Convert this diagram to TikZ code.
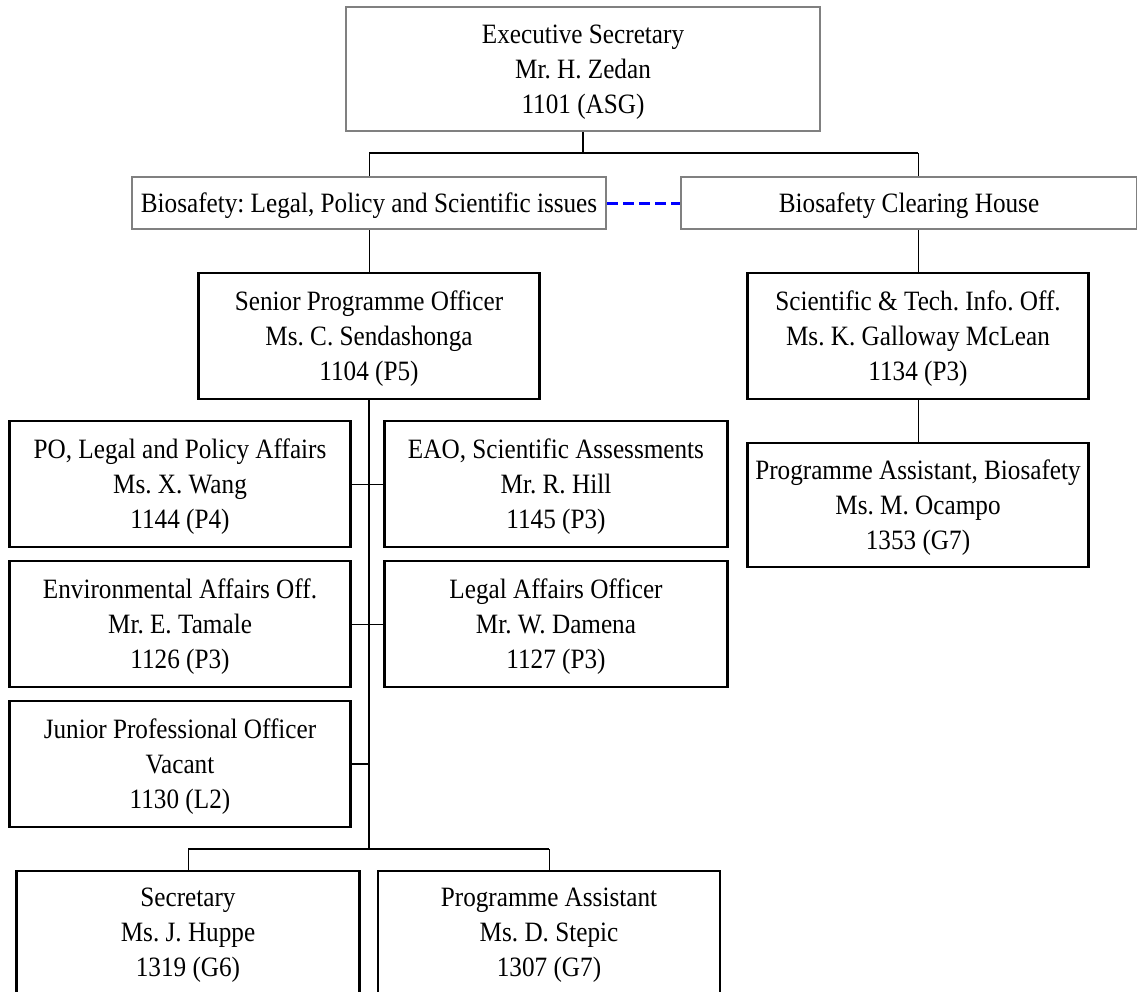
\documentclass[tikz,border=0pt]{standalone}
\usepackage{fontspec}
\setmainfont{Liberation Serif}[FakeStretch=0.9]
\usepackage{tikz}
\usetikzlibrary{positioning, calc}
\newcommand{\card}[3]{\rule{0pt}{25.5pt}#1\\#2\\#3} % three lines of a post, first line lowered a little
\tikzset{
x=1pt, y=-1pt, % one unit per pixel, y running downwards
post/.style={draw, line width=2.2pt, inner sep=0pt, align=center, minimum width=341pt, minimum height=126pt, font=\fontsize{28}{35}\selectfont\frenchspacing}, % sets the properties for each post
unit/.style={post, draw=gray, line width=2pt}, % grey boxes for the head and the two units
band/.style={unit, minimum height=52pt, execute at begin node={\rule{0pt}{25.5pt}}}, % one-line unit boxes
tie/.style={line width=1pt}, % thin connecting lines
trunk/.style={line width=1.8pt}, % heavier connecting lines
liaison/.style={draw=blue, line width=3pt, dash pattern=on 11pt off 5pt}, % dashed link between the units
}

\begin{document}
\begin{tikzpicture}
                \useasboundingbox (0,0) rectangle (1137,991);
                \node[unit, minimum width=474pt, minimum height=124pt] (exec) at (583,69) {\card{Executive Secretary}{Mr. H. Zedan}{1101 (ASG)}};
                \node[band, minimum width=474pt] (legal) at (369,203) {Biosafety: Legal, Policy and Scientific issues};
                \node[band, minimum width=456pt] (bch) at (909,203) {Biosafety Clearing House};
                \node[post] (senior) at (369,336) {\card{Senior Programme Officer}{Ms. C. Sendashonga}{1104 (P5)}};
                \node[post] (stio) at (918,336) {\card{Scientific \& Tech. Info. Off.}{Ms. K. Galloway McLean}{1134 (P3)}};
                \node[post, minimum height=124pt] (pabio) at (918,505) {\card{Programme Assistant, Biosafety}{Ms. M. Ocampo}{1353 (G7)}};
                \node[post] (wang) at (180,484) {\card{PO, Legal and Policy Affairs}{Ms. X. Wang}{1144 (P4)}};
                \node[post, minimum width=343pt] (hill) at (556,484) {\card{EAO, Scientific Assessments}{Mr. R. Hill}{1145 (P3)}};
                \node[post] (tamale) at (180,624) {\card{Environmental Affairs Off.}{Mr. E. Tamale}{1126 (P3)}};
                \node[post, minimum width=343pt] (damena) at (556,624) {\card{Legal Affairs Officer}{Mr. W. Damena}{1127 (P3)}};
                \node[post] (junior) at (180,764) {\card{Junior Professional Officer}{Vacant}{1130 (L2)}};
                \node[post, minimum width=343pt, minimum height=122pt] (huppe) at (188,932) {\card{Secretary}{Ms. J. Huppe}{1319 (G6)}};
                \node[post, minimum width=342pt, minimum height=122pt] (stepic) at (549,932) {\card{Programme Assistant}{Ms. D. Stepic}{1307 (G7)}};
                \coordinate (topbar) at (0,153);
                \coordinate (lowbar) at (0,849);
                \draw[trunk]
                    (exec.south) -- (exec.south |- topbar)
                    (legal.north |- topbar) -- (stio.north |- topbar)
                    (senior.south) -- (senior.south |- lowbar)
                    (huppe.north |- lowbar) -- (stepic.north |- lowbar)
                    (junior.east) -- (junior.east -| senior.south)
                    ;
                \draw[tie]
                    (legal.north |- topbar) -- (legal.north)
                    (stio.north |- topbar) -- (stio.north |- bch.north)
                    (legal.south) -- (senior.north)
                    (stio.north |- bch.south) -- (stio.north)
                    (stio.south) -- (pabio.north)
                    (wang.east) -- (hill.west)
                    (tamale.east) -- (damena.west)
                    (huppe.north |- lowbar) -- (huppe.north)
                    (stepic.north |- lowbar) -- (stepic.north)
                    ;
                \draw[liaison] (legal.east) -- (bch.west);
            \end{tikzpicture}
\end{document}
